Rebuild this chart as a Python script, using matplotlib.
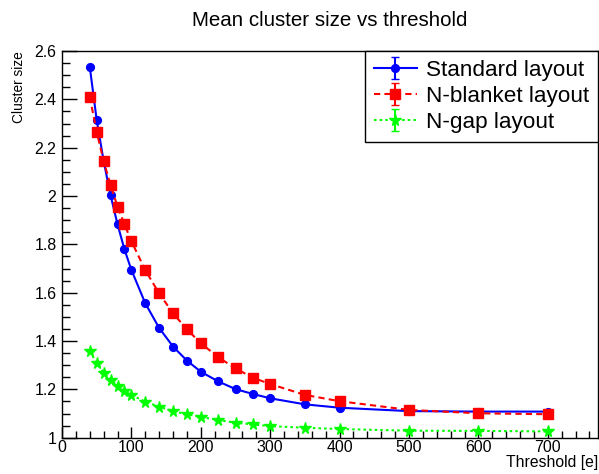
import matplotlib.pyplot as plt
from matplotlib.ticker import MultipleLocator

plt.rcParams['font.family'] = ['Liberation Sans', 'DejaVu Sans']

# thresholds [e]
threshold = [40, 50, 60, 70, 80, 90, 100, 120, 140, 160, 180, 200,
             225, 250, 275, 300, 350, 400, 500, 600, 700]

standard = [2.535, 2.314, 2.145, 2.003, 1.883, 1.779, 1.694, 1.556, 1.454, 1.377, 1.319, 1.273,
            1.233, 1.201, 1.181, 1.163, 1.138, 1.124, 1.110, 1.108, 1.108]
nblanket = [2.411, 2.264, 2.145, 2.044, 1.956, 1.883, 1.813, 1.693, 1.597, 1.515, 1.448, 1.391,
            1.333, 1.287, 1.248, 1.222, 1.177, 1.151, 1.115, 1.101, 1.097]
ngap = [1.359, 1.308, 1.269, 1.239, 1.215, 1.193, 1.177, 1.149, 1.128, 1.110, 1.097, 1.086,
        1.073, 1.062, 1.055, 1.048, 1.041, 1.036, 1.029, 1.028, 1.026]

fig = plt.figure(figsize=(5.99, 4.74), dpi=100)
ax = fig.add_axes([0.1035, 0.0766, 0.8945, 0.8158])

ax.errorbar(threshold, standard, yerr=0, color='#0000ff', lw=1.5, ls='-',
            marker='o', ms=5.6, capsize=3, label='Standard layout')
ax.errorbar(threshold, nblanket, yerr=0, color='#ff0000', lw=1.5, ls=(0, (3, 2)),
            marker='s', ms=7, capsize=3, label='N-blanket layout')
ax.errorbar(threshold, ngap, yerr=0, color='#00ff00', lw=1.5, ls=(0, (1.2, 1.5)),
            marker='*', ms=8.5, capsize=3, label='N-gap layout')

ax.set_xlim(0, 772)
ax.set_ylim(1, 2.6)
ax.xaxis.set_major_locator(MultipleLocator(100))
ax.xaxis.set_minor_locator(MultipleLocator(20))
ax.yaxis.set_major_locator(MultipleLocator(0.2))
ax.yaxis.set_minor_locator(MultipleLocator(0.05))
ax.yaxis.set_major_formatter(plt.FuncFormatter(lambda v, p: '%g' % round(v, 2)))
ax.tick_params(which='both', direction='in', top=False, right=False, labelsize=11.4, width=1)
ax.tick_params(axis='x', which='major', length=8, pad=2)
ax.tick_params(axis='x', which='minor', length=5)
ax.tick_params(axis='y', which='major', length=11, pad=4)
ax.tick_params(axis='y', which='minor', length=6)
for s in ax.spines.values():
    s.set_linewidth(1)

leg = ax.legend(loc='upper right', bbox_to_anchor=(1, 1), borderaxespad=0, fontsize=16.2,
                fancybox=False, edgecolor='black', framealpha=1, handlelength=1.9,
                handletextpad=0.4, labelspacing=0.22, borderpad=0.4)
leg.get_frame().set_linewidth(1)

fig.text(0.55, 0.956, 'Mean cluster size vs threshold', ha='center', va='center', fontsize=14.8)
fig.text(0.998, 0.008, 'Threshold [e]', ha='right', va='bottom', fontsize=11.3)
fig.text(0.032, 0.892, 'Cluster size', ha='center', va='top', rotation=90, fontsize=9.9)

fig.savefig('out.png', dpi=100)
